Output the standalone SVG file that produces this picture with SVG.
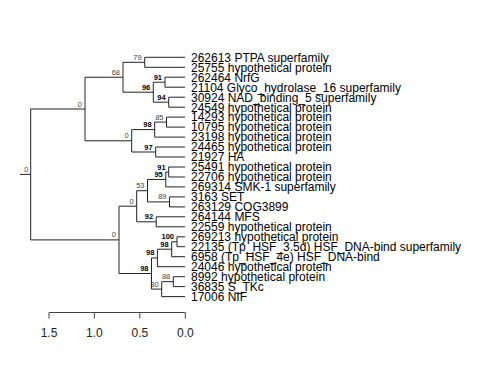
<svg xmlns="http://www.w3.org/2000/svg" width="480" height="384" viewBox="0 0 480 384">
<style>
.br{fill:none;stroke:#222;stroke-width:1}
.ax{fill:none;stroke:#444;stroke-width:1}
.tip{font-family:"Liberation Sans",Arial,sans-serif;font-size:12px;fill:#000}
.sl{font-family:"Liberation Sans",Arial,sans-serif;font-size:7.5px;fill:#444;text-anchor:end}
.sb{font-family:"Liberation Sans",Arial,sans-serif;font-size:7.5px;fill:#000;font-weight:bold;text-anchor:end}
.axl{font-family:"Liberation Sans",Arial,sans-serif;font-size:12px;fill:#222;text-anchor:middle}
</style>
<rect width="480" height="384" fill="#fff"/>
<g id="connectors">
<path class="br" d="M20 174.4H30.7M30.7 109V239.9M30.7 109H85M30.7 239.9H119
M85 77.25V140.8M85 77.25H123M85 140.8H131.7
M123 62.3V92.2M123 62.3H144.7M123 92.2H153.3
M144.7 57.3V67.3M144.7 57.3H185M144.7 67.3H185
M153.3 82.2V102.2M153.3 82.2H165M153.3 102.2H168.7
M165 77.2V87.2M165 77.2H185M165 87.2H185
M168.7 97.2V107.2M168.7 97.2H185M168.7 107.2H185
M131.7 129.6V152M131.7 129.6H154.7M131.7 152H155.7
M154.7 122.1V137.1M154.7 122.1H166.5M154.7 137.1H185
M166.5 117.1V127.1M166.5 117.1H185M166.5 127.1H185
M155.7 147V157M155.7 147H185M155.7 157H185
M119 206.2V273.5M119 206.2H136.7M119 273.5H151.5
M136.7 190.7V221.8M136.7 190.7H147.5M136.7 221.8H156.2
M147.5 179.45V201.9M147.5 179.45H165.8M147.5 201.9H169.5
M165.8 172V186.9M165.8 172H168.7M165.8 186.9H185
M168.7 167V177M168.7 167H185M168.7 177H185
M169.5 196.9V206.9M169.5 196.9H185M169.5 206.9H185
M156.2 216.8V226.8M156.2 216.8H185M156.2 226.8H185
M151.5 257.95V289.1M151.5 257.95H157.4M151.5 289.1H161.7
M157.4 249.2V266.7M157.4 249.2H171.7M157.4 266.7H185
M171.7 241.75V256.7M171.7 241.75H177M171.7 256.7H185
M177 236.8V246.7M177 236.8H185M177 246.7H185
M161.7 281.65V296.6M161.7 281.65H173.3M161.7 296.6H185
M173.3 276.7V286.6M173.3 276.7H185M173.3 286.6H185"/>
</g>
<g id="root"><text class="sl" x="28.3" y="172">0</text></g>
<g id="n0a"><text class="sl" x="82" y="106.5">0</text></g>
<g id="n68"><text class="sl" x="120" y="74.75">68</text></g>
<g id="n79"><text class="sl" x="141.7" y="59.8">79</text></g>
<g id="n96"><text class="sb" x="150.3" y="89.7">96</text></g>
<g id="n91a"><text class="sb" x="162" y="79.7">91</text></g>
<g id="n94"><text class="sb" x="165.7" y="99.7">94</text></g>
<g id="n0b"><text class="sl" x="128.7" y="138.3">0</text></g>
<g id="n98a"><text class="sb" x="151.7" y="127.1">98</text></g>
<g id="n85"><text class="sl" x="163.5" y="119.6">85</text></g>
<g id="n97"><text class="sb" x="152.7" y="149.5">97</text></g>
<g id="n0c"><text class="sl" x="116" y="237.4">0</text></g>
<g id="n0d"><text class="sl" x="133.7" y="203.7">0</text></g>
<g id="n53"><text class="sl" x="144.5" y="188.2">53</text></g>
<g id="n95"><text class="sb" x="162.8" y="176.95">95</text></g>
<g id="n91b"><text class="sb" x="165.7" y="169.5">91</text></g>
<g id="n89"><text class="sl" x="166.5" y="199.4">89</text></g>
<g id="n92"><text class="sb" x="153.2" y="219.3">92</text></g>
<g id="n98e"><text class="sb" x="148.5" y="271">98</text></g>
<g id="n98d"><text class="sb" x="154.4" y="255.45">98</text></g>
<g id="n98c"><text class="sb" x="168.7" y="246.7">98</text></g>
<g id="n100"><text class="sb" x="174" y="239.25">100</text></g>
<g id="n80"><text class="sl" x="158.7" y="286.6">80</text></g>
<g id="n88"><text class="sl" x="170.3" y="279.15">88</text></g>
<g id="t0"><text class="tip" x="191" y="61.6">262613 PTPA superfamily</text></g>
<g id="t1"><text class="tip" x="191" y="71.6">25755 hypothetical protein</text></g>
<g id="t2"><text class="tip" x="191" y="81.5">262464 NrfG</text></g>
<g id="t3"><text class="tip" x="191" y="91.5">21104 Glyco_hydrolase_16 superfamily</text></g>
<g id="t4"><text class="tip" x="191" y="101.5">30924 NAD_binding_5 superfamily</text></g>
<g id="t5"><text class="tip" x="191" y="111.5">24549 hypothetical protein</text></g>
<g id="t6"><text class="tip" x="191" y="121.4">14293 hypothetical protein</text></g>
<g id="t7"><text class="tip" x="191" y="131.4">10795 hypothetical protein</text></g>
<g id="t8"><text class="tip" x="191" y="141.4">23198 hypothetical protein</text></g>
<g id="t9"><text class="tip" x="191" y="151.3">24465 hypothetical protein</text></g>
<g id="t10"><text class="tip" x="191" y="161.3">21927 HA</text></g>
<g id="t11"><text class="tip" x="191" y="171.3">25491 hypothetical protein</text></g>
<g id="t12"><text class="tip" x="191" y="181.3">22706 hypothetical protein</text></g>
<g id="t13"><text class="tip" x="191" y="191.2">269314 SMK-1 superfamily</text></g>
<g id="t14"><text class="tip" x="191" y="201.2">3163 SET</text></g>
<g id="t15"><text class="tip" x="191" y="211.2">263129 COG3899</text></g>
<g id="t16"><text class="tip" x="191" y="221.1">264144 MFS</text></g>
<g id="t17"><text class="tip" x="191" y="231.1">22559 hypothetical protein</text></g>
<g id="t18"><text class="tip" x="191" y="241.1">269213 hypothetical protein</text></g>
<g id="t19"><text class="tip" x="191" y="251">22135 (Tp_HSF_3.5d) HSF_DNA-bind superfamily</text></g>
<g id="t20"><text class="tip" x="191" y="261">6958 (Tp_HSF_4e) HSF_DNA-bind</text></g>
<g id="t21"><text class="tip" x="191" y="271">24046 hypothetical protein</text></g>
<g id="t22"><text class="tip" x="191" y="281">8992 hypothetical protein</text></g>
<g id="t23"><text class="tip" x="191" y="290.9">36835 S_TKc</text></g>
<g id="t24"><text class="tip" x="191" y="300.9">17006 NIF</text></g>
<g id="axis">
<path class="ax" d="M49 312.5H185.3M49 312.5V318.5M94.4 312.5V318.5M139.8 312.5V318.5M185.3 312.5V318.5"/>
<text class="axl" x="49" y="337">1.5</text>
<text class="axl" x="94.4" y="337">1.0</text>
<text class="axl" x="139.8" y="337">0.5</text>
<text class="axl" x="185.3" y="337">0.0</text>
</g>
</svg>
